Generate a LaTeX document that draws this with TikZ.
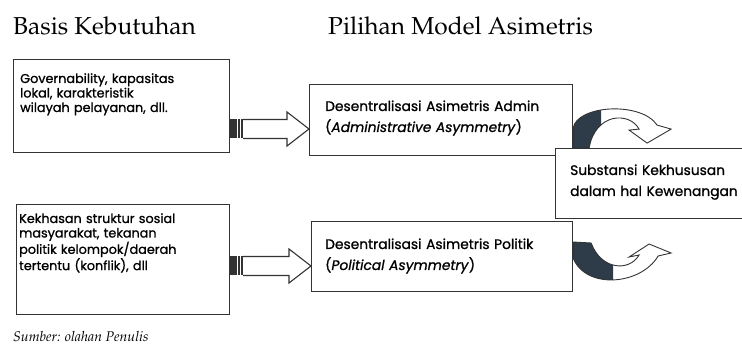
\documentclass[tikz,border=0pt]{standalone}
\usepackage[T1]{fontenc}
\usepackage{fontspec}
\usepackage{xcolor}
\newfontfamily\kotakfont{Poppins}[FakeBold=1]
\newcommand{\judulfont}{\fontencoding{T1}\fontfamily{ppl}\selectfont}
\usetikzlibrary{calc,positioning}

\definecolor{pekat}{HTML}{2E3B48}
\definecolor{garisgelap}{HTML}{333333}

% panah blok bergaris: #1 pangkal, #2 ujung
\newcommand{\panahbelang}[2]{%
	\fill[garisgelap] ($(#1)+(0,-9.5)$) rectangle ($(#1)+(13,9.5)$);
	\draw[white, line width=0.9pt] ($(#1)+(7.5,-9.5)$) -- ($(#1)+(7.5,9.5)$)
		($(#1)+(10.8,-9.5)$) -- ($(#1)+(10.8,9.5)$);
	\draw[garis, fill=white] ($(#1)+(13,-9.5)$) -- ($(#2)+(-22,-9.5)$) -- ($(#2)+(-22,-17)$)
		-- (#2) -- ($(#2)+(-22,17)$) -- ($(#2)+(-22,9.5)$) -- ($(#1)+(13,9.5)$);
}

\def\lengkungatas{(0,-28) .. controls (4,-51) and (68,-55) .. (84,-31) -- (98,-27) -- (74,-13)
	-- (56,-26) -- (66,-27) .. controls (56,-45) and (22,-43) .. (16,-8) -- (0,-8) -- cycle}
\def\lengkungbawah{(0,21) -- (18,22) .. controls (28,49) and (56,51) .. (66,34) -- (56,36)
	-- (76,23) -- (98,32) -- (85,35) .. controls (68,64) and (13,69) .. (0,37) -- cycle}

\begin{document}
\begin{tikzpicture}[x=1pt,y=-1pt,
	garis/.style={draw=garisgelap, line width=1.1pt, line join=miter},
	kotak/.style={garis, fill=white, rectangle, inner sep=0pt, anchor=north west},
	isi/.style={anchor=base west, inner sep=0pt, align=left,
		font=\kotakfont\fontsize{12.8}{14.5}\selectfont},
	isilebar/.style={isi, font=\kotakfont\fontsize{13.8}{21}\selectfont},
	judul/.style={anchor=base west, inner sep=0pt, font=\judulfont\fontsize{24.5}{28}\selectfont}]
	\useasboundingbox (0,0) rectangle (742,347);

	\node[judul] (basis) at (13,35) {Basis Kebutuhan};
	\node[judul] (pilihan) at (328,35) {Pilihan Model Asimetris};

	\node[kotak, minimum width=216pt, minimum height=93pt] (kebutuhan) at (13,59) {};
	\node[isi, text width=205pt] (kebutuhanteks) at ($(kebutuhan.north west)+(7,24)$)
		{Governability, kapasitas\\lokal, karakteristik\\wilayah pelayanan, dll.};
	\node[kotak, minimum width=213pt, minimum height=110pt] (kekhasan) at (16,204) {};
	\node[isi, text width=205pt] (kekhasanteks) at ($(kekhasan.north west)+(3,19)$)
		{Kekhasan struktur sosial\\masyarakat, tekanan\\politik kelompok/daerah\\tertentu (konflik), dll};

	\node[kotak, minimum width=263pt, minimum height=71pt] (admin) at (309,84) {};
	\node[isilebar, text width=240pt] (adminteks) at ($(admin.north west)+(16,27)$)
		{Desentralisasi Asimetris Admin\\(\textit{Administrative Asymmetry})};
	\node[kotak, minimum width=261pt, minimum height=70pt] (politik) at (311,221) {};
	\node[isilebar, text width=240pt] (politikteks) at ($(politik.north west)+(14,28)$)
		{Desentralisasi Asimetris Politik\\(\textit{Political Asymmetry})};

	\coordinate (jalur1) at (0,129);
	\coordinate (jalur2) at (0,266);
	\panahbelang{kebutuhan.east |- jalur1}{admin.west |- jalur1}
	\panahbelang{kekhasan.east |- jalur2}{politik.west |- jalur2}

	% panah lengkung
	\begin{scope}[shift={(admin.south east)}]
		\fill[white] \lengkungatas;
		\begin{scope}
			\clip (-1,-60) rectangle (28,0);
			\fill[pekat] \lengkungatas;
		\end{scope}
		\draw[garis, line width=0.9pt] \lengkungatas;
	\end{scope}
	\begin{scope}[shift={(politik.north east)}]
		\fill[white] \lengkungbawah;
		\begin{scope}
			\clip (-1,10) rectangle (40,75);
			\fill[pekat] \lengkungbawah;
		\end{scope}
		\draw[garis, line width=0.9pt] \lengkungbawah;
	\end{scope}

	\node[kotak, minimum width=195pt, minimum height=70pt] (substansi) at (555,148) {};
	\node[isilebar, text width=175pt] (substansiteks) at ($(substansi.north west)+(15,27)$)
		{Substansi Kekhususan\\dalam hal Kewenangan};

	\node[anchor=base west, inner sep=0pt, font=\judulfont\itshape\fontsize{14}{16}\selectfont]
		(sumber) at (13,342) {Sumber: olahan Penulis};
\end{tikzpicture}
\end{document}
